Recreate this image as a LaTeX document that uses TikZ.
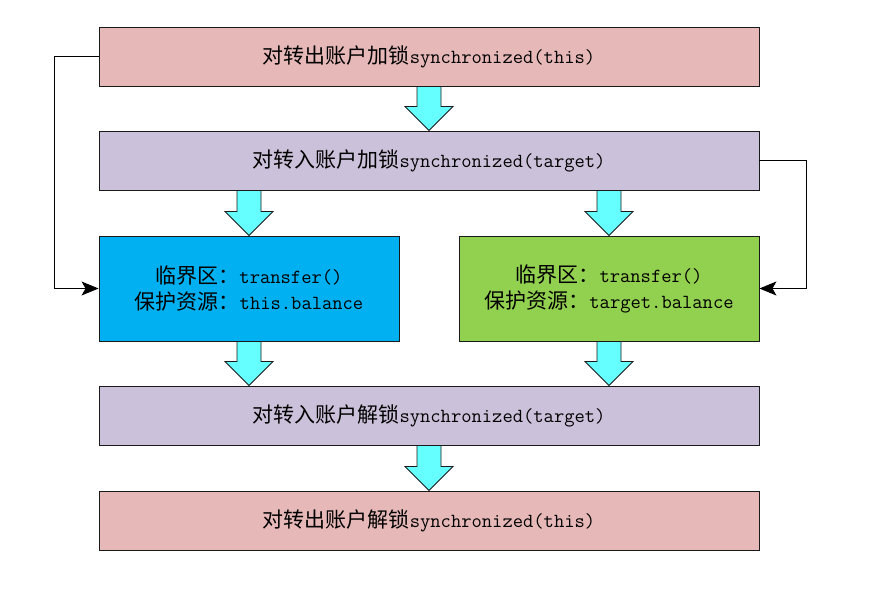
\documentclass[tikz,border=0pt]{standalone}
\usepackage{fontspec}
\newfontfamily\cjkf{Noto Sans CJK SC}
\newcommand{\cj}[1]{{\fontsize{21}{26}\selectfont\cjkf #1}}
\newcommand{\lt}[1]{{\fontsize{20}{26}\selectfont\ttfamily #1}}
\usetikzlibrary{calc,arrows.meta}
\definecolor{pinkbox}{HTML}{E6B9B8}
\definecolor{lavbox}{HTML}{CCC1DA}
\definecolor{bluebox}{HTML}{00B0F0}
\definecolor{greenbox}{HTML}{92D050}
\definecolor{arrcyan}{HTML}{66FFFF}
\definecolor{edge}{HTML}{1A1A1A}
\newcommand{\blockarrow}[2]{%
  \draw[blockarr] ($(#1)+(-12,0)$) -- ($(#1)+(12,0)$) -- ($(#2)+(12,24)$) -- ($(#2)+(24,24)$) -- (#2) -- ($(#2)+(-24,24)$) -- ($(#2)+(-12,24)$) -- cycle;}
\begin{document}
\begin{tikzpicture}[x=1pt,y=1pt,
  box/.style={draw=edge, line width=0.9pt, minimum height=59pt, minimum width=660pt, inner sep=0pt,
    font=\fontsize{20}{26}\selectfont, text=black, align=center},
  halfbox/.style={box, minimum width=300pt, minimum height=105pt},
  blockarr/.style={draw=edge, line width=0.8pt, fill=arrcyan, line join=miter},
  conn/.style={draw=black, line width=0.9pt, -{Stealth[length=17pt,width=14pt,inset=4pt]}}]
\useasboundingbox (0,0) rectangle (871,598);
\node[box, fill=pinkbox] (b1) at (429,541.5) {\cj{对转出账户加锁}\lt{synchronized(this)}};
\node[box, fill=lavbox] (b2) at (429,437.5) {\cj{对转入账户加锁}\lt{synchronized(target)}};
\node[halfbox, fill=bluebox] (b3) at (249,309.5) {\cj{临界区：}\lt{transfer()}\\\cj{保护资源：}\lt{this.balance}};
\node[halfbox, fill=greenbox] (b4) at (609,309.5) {\cj{临界区：}\lt{transfer()}\\\cj{保护资源：}\lt{target.balance}};
\node[box, fill=lavbox] (b5) at (429,182.5) {\cj{对转入账户解锁}\lt{synchronized(target)}};
\node[box, fill=pinkbox] (b6) at (429,77.5) {\cj{对转出账户解锁}\lt{synchronized(this)}};
\coordinate (t3) at (b3.north |- b2.south);
\coordinate (t4) at (b4.north |- b2.south);
\coordinate (t5l) at (b3.south |- b5.north);
\coordinate (t5r) at (b4.south |- b5.north);
\blockarrow{b1.south}{b2.north}
\blockarrow{t3}{b3.north}
\blockarrow{t4}{b4.north}
\blockarrow{b3.south}{t5l}
\blockarrow{b4.south}{t5r}
\blockarrow{b5.south}{b6.north}
\draw[conn] (b1.west) -- ++(-44,0) |- (b3.west);
\draw[conn] (b2.east) -- ++(47,0) |- (b4.east);
\end{tikzpicture}
\end{document}
